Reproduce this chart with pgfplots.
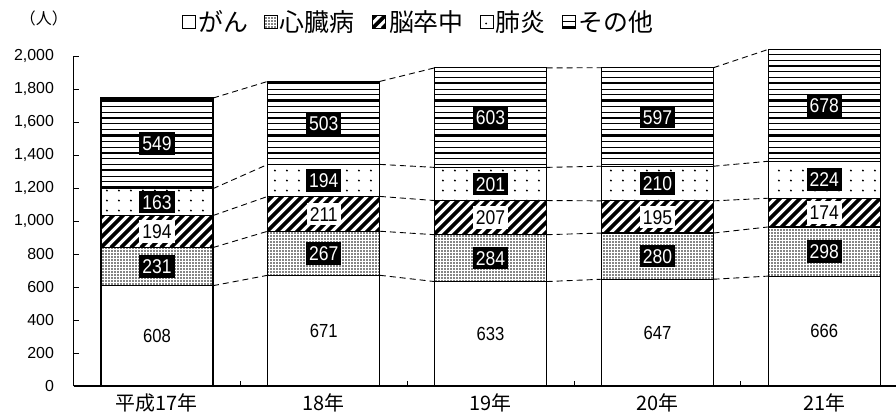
\documentclass[border=0pt]{standalone}
\usepackage{pgfplots}
\pgfplotsset{compat=1.18}
\usepackage{pgfplotstable}
\usepackage{fontspec}
\setmainfont{Liberation Sans}
\newfontfamily\cjk{Noto Sans CJK JP}
\newfontfamily\narrow[FakeStretch=0.88]{Liberation Sans}

\pgfplotstableread{
x gan shin nou hai other
0 608 231 194 163 549
1 671 267 211 194 503
2 633 284 207 201 603
3 647 280 195 210 597
4 666 298 174 224 678
}\deaths

\pgfplotstableread{
x y l
0 304 608
1 335.5 671
2 316.5 633
3 323.5 647
4 333 666
}\ganlab

\pgfplotstableread{
x y l
0 936 194
1 1043.5 211
2 1020.5 207
3 1024.5 195
4 1051 174
}\noulab

\pgfplotstableread{
x y l
0 723.5 231
1 804.5 267
2 775 284
3 787 280
4 815 298
0 1114.5 163
1 1246 194
2 1224.5 201
3 1227 210
4 1250 224
0 1470.5 549
1 1594.5 503
2 1626.5 603
3 1630.5 597
4 1701 678
}\blacklab

\newcommand\ppsw{\pgfpointanchor{path picture bounding box}{south west}\pgfgetlastxy{\ppx}{\ppy}}
\tikzset{
  texgrid/.style={fill=black!48, path picture={\ppsw
    \pgfsetstrokecolor{white}\pgfsetlinewidth{0.65bp}
    \foreach \i in {0,...,300}{\pgfpathmoveto{\pgfpoint{\ppx+\i*3bp}{\ppy}}\pgfpathlineto{\pgfpoint{\ppx+\i*3bp}{\ppy+200bp}}\pgfusepath{stroke}}
    \foreach \j in {0,...,60}{\pgfpathmoveto{\pgfpoint{\ppx}{\ppy+\j*3bp}}\pgfpathlineto{\pgfpoint{\ppx+900bp}{\ppy+\j*3bp}}\pgfusepath{stroke}}
  }},
  texdiag/.style={fill=white, path picture={\ppsw
    \pgfsetstrokecolor{black}\pgfsetlinewidth{3.6bp}
    \foreach \k in {-20,...,95}{\pgfpathmoveto{\pgfpoint{\ppx+\k*10bp}{\ppy}}\pgfpathlineto{\pgfpoint{\ppx+\k*10bp+200bp}{\ppy+200bp}}\pgfusepath{stroke}}
  }},
  texdots/.style={fill=white, path picture={\ppsw
    \pgfsetfillcolor{black}
    \foreach \i in {0,...,75}{\foreach \j in {0,...,10}{
      \pgfpathcircle{\pgfpoint{\ppx+\i*12bp+6bp}{\ppy+\j*10bp+5bp}}{1.1bp}\pgfusepath{fill}}}
  }},
  texh/.style={fill=white, path picture={\ppsw
    \pgfsetstrokecolor{black}\pgfsetlinewidth{1.1bp}
    \foreach \j in {0,...,40}{\pgfpathmoveto{\pgfpoint{\ppx}{\ppy+\j*5.8bp+1bp}}\pgfpathlineto{\pgfpoint{\ppx+900bp}{\ppy+\j*5.8bp+1bp}}\pgfusepath{stroke}}
    \pgfsetlinewidth{2.4bp}
    \foreach \j in {0,...,14}{\pgfpathmoveto{\pgfpoint{\ppx}{\ppy+\j*17.4bp+1bp}}\pgfpathlineto{\pgfpoint{\ppx+900bp}{\ppy+\j*17.4bp+1bp}}\pgfusepath{stroke}}
  }},
}

\pgfplotsset{
  sq/.style={legend image code/.code={\draw[##1,line width=0.8bp] (0bp,-6.5bp) rectangle (13bp,6.5bp);}},
  common/.style={
    at={(73.5bp,28bp)}, anchor=south west,
    scale only axis, width=822.5bp, height=330bp,
    xmin=-0.5, xmax=4.43, ymin=0, ymax=2000, clip=false,
  },
}

\begin{document}
\begin{tikzpicture}
\begin{axis}[
  common,
  ybar stacked, bar width=112bp,
  axis lines*=left, axis line style={line width=1.1bp,-},
  tick align=inside,
  xtick={0,1,2,3,4},
  xticklabels={平成17年,18年,19年,20年,21年},
  xticklabel style={font=\cjk\fontsize{20}{20}\selectfont, yshift=-4bp},
  major x tick style={draw=none},
  minor xtick={0.5,1.5,2.5,3.5},
  minor tick length=5bp,
  ytick={0,200,...,2000},
  major tick length=5bp,
  tick style={black, line width=0.8bp},
  yticklabel style={font=\fontsize{16}{16}\selectfont, xshift=-16bp},
  /pgf/number format/assume math mode=true,
  /pgf/number format/1000 sep={,},
  legend columns=-1,
  legend style={at={(0.42,1.103)}, anchor=center, draw=none, fill=none,
    font=\cjk\fontsize{25}{25}\selectfont,
    /tikz/every even column/.append style={column sep=14bp}},
]
\addplot[sq, fill=white, draw=black, line width=1.2bp] table[x=x,y=gan]{\deaths};
\addplot[sq, texgrid, draw=black, line width=1.2bp] table[x=x,y=shin]{\deaths};
\addplot[sq, texdiag, draw=black, line width=1.2bp] table[x=x,y=nou]{\deaths};
\addplot[sq, texdots, draw=black, line width=1.2bp] table[x=x,y=hai]{\deaths};
\addplot[sq, texh, draw=black, line width=1.2bp] table[x=x,y=other]{\deaths};
\legend{がん,心臓病,脳卒中,肺炎,その他}
\node at (rel axis cs:-0.036,1.115) {\cjk\fontsize{16}{16}\selectfont （人）};
\end{axis}

\begin{axis}[common, hide axis, unbounded coords=jump]
\pgfplotsset{cline/.style={black, line width=0.9bp, dash pattern=on 6bp off 4bp}}
\addplot[cline] coordinates {(0.336,608) (0.664,671) (1,nan) (1.336,671) (1.664,633) (2,nan) (2.336,633) (2.664,647) (3,nan) (3.336,647) (3.664,666)};
\addplot[cline] coordinates {(0.336,839) (0.664,938) (1,nan) (1.336,938) (1.664,917) (2,nan) (2.336,917) (2.664,927) (3,nan) (3.336,927) (3.664,964)};
\addplot[cline] coordinates {(0.336,1033) (0.664,1149) (1,nan) (1.336,1149) (1.664,1124) (2,nan) (2.336,1124) (2.664,1122) (3,nan) (3.336,1122) (3.664,1138)};
\addplot[cline] coordinates {(0.336,1196) (0.664,1343) (1,nan) (1.336,1343) (1.664,1325) (2,nan) (2.336,1325) (2.664,1332) (3,nan) (3.336,1332) (3.664,1362)};
\addplot[cline] coordinates {(0.336,1745) (0.664,1846) (1,nan) (1.336,1846) (1.664,1928) (2,nan) (2.336,1928) (2.664,1929) (3,nan) (3.336,1929) (3.664,2040)};

\addplot[draw=none, mark=none, nodes near coords, point meta=explicit symbolic,
  nodes near coords align={center},
  nodes near coords style={font=\narrow\fontsize{19}{19}\selectfont, text=black}]
  table[x=x,y=y,meta=l]{\ganlab};
\addplot[draw=none, mark=none, nodes near coords, point meta=explicit symbolic,
  nodes near coords align={center},
  nodes near coords style={font=\narrow\fontsize{20}{20}\selectfont, text=black, fill=white,
    inner xsep=3bp, inner ysep=4bp, text height=14.5bp, text depth=0bp}]
  table[x=x,y=y,meta=l]{\noulab};
\addplot[draw=none, mark=none, nodes near coords, point meta=explicit symbolic,
  nodes near coords align={center},
  nodes near coords style={font=\narrow\fontsize{20}{20}\selectfont, text=white, fill=black,
    inner xsep=3bp, inner ysep=4bp, text height=14.5bp, text depth=0bp}]
  table[x=x,y=y,meta=l]{\blacklab};
\end{axis}
\pgfresetboundingbox
\path[use as bounding box] (0,0) rectangle (896bp,414bp);
\end{tikzpicture}
\end{document}
